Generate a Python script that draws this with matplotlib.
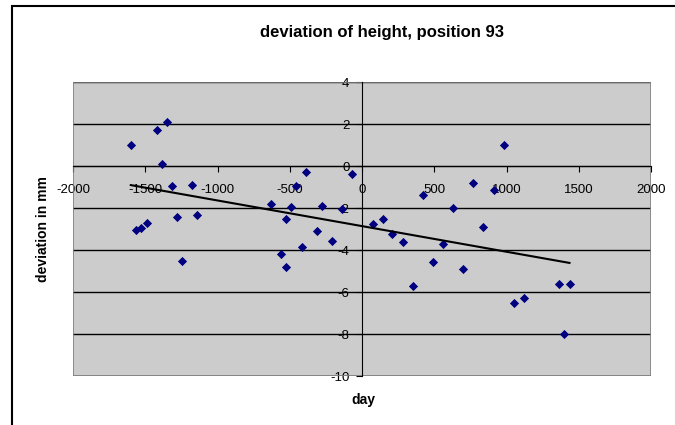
import numpy as np
import matplotlib
matplotlib.use("Agg")
import matplotlib.pyplot as plt
from matplotlib.patches import Rectangle

plt.rcParams['font.family'] = ['Liberation Sans', 'DejaVu Sans']
plt.rcParams['axes.unicode_minus'] = False

# day vs deviation in mm
day = [-1600, -1420, -1350, -1385, -1316, -1177, -1563, -1529, -1489, -1281,
       -1143, -1244, -627, -558, -523, -523, -489, -454, -385, -417,
       -313, -276, -207, -137, -68, 73, 142, 211, 281, 352,
       422, 491, 560, 632, 701, 771, 840, 912, 981, 1050,
       1120, 1365, 1436, 1399]
deviation = [1.0, 1.7, 2.1, 0.1, -0.95, -0.9, -3.05, -2.95, -2.7, -2.45,
             -2.35, -4.5, -1.8, -4.2, -4.8, -2.5, -1.95, -0.95, -0.3, -3.85,
             -3.1, -1.9, -3.55, -2.05, -0.4, -2.75, -2.5, -3.25, -3.6, -5.7,
             -1.4, -4.55, -3.7, -2.0, -4.9, -0.8, -2.9, -1.15, 1.0, -6.5,
             -6.3, -5.6, -5.6, -8.0]

x_ticks = [-2000, -1500, -1000, -500, 0, 500, 1000, 1500, 2000]
y_ticks = [-10, -8, -6, -4, -2, 0, 2, 4]

fig = plt.figure(figsize=(6.75, 4.25), dpi=100)
ax = fig.add_axes([73 / 675, 1 - 376 / 425, 578 / 675, 294 / 425])
ax.set_facecolor('#CCCCCC')

# linear trend line
coef = np.polyfit(day, deviation, 1)
xs = np.array([min(day), max(day)])
ax.plot(xs, np.polyval(coef, xs), color='black', lw=1.5, zorder=4)

ax.scatter(day, deviation, marker='D', s=22, color='#000080', zorder=3, linewidths=0)

ax.set_xlim(-2000, 2000)
ax.set_ylim(-10, 4)
ax.set_xticks(x_ticks)
ax.set_yticks(y_ticks)
ax.yaxis.grid(True, color='black', lw=1)
ax.set_axisbelow(True)

for side in ['top', 'right']:
    ax.spines[side].set_visible(False)
ax.spines['left'].set_position(('data', 0))
ax.spines['bottom'].set_position(('data', 0))
ax.spines['left'].set_color('black')
ax.spines['bottom'].set_color('black')
ax.add_patch(Rectangle((0, 0), 1, 1, transform=ax.transAxes, fill=False,
                       edgecolor='#808080', lw=1.2, zorder=1))
ax.tick_params(direction='out', length=4, labelsize=9.5, colors='black', pad=5)
ax.tick_params(axis='x', pad=9)

fig.text(382 / 675, 1 - 32 / 425, 'deviation of height, position 93',
         ha='center', va='center', fontsize=12, fontweight='bold')
fig.text(363 / 675, 1 - 400 / 425, 'day', ha='center', va='center',
         fontsize=10, fontweight='bold')
fig.text(43 / 675, 1 - 229 / 425, 'deviation in mm', ha='center', va='center',
         rotation=90, fontsize=10, fontweight='bold')

# outer chart frame (only top and left edges visible)
fig.patches.append(Rectangle((12 / 675, -0.2), 1.5, 0.2 + 1 - 6 / 425,
                             transform=fig.transFigure, fill=False,
                             edgecolor='black', lw=1.5))

fig.savefig('out.png', dpi=100)
